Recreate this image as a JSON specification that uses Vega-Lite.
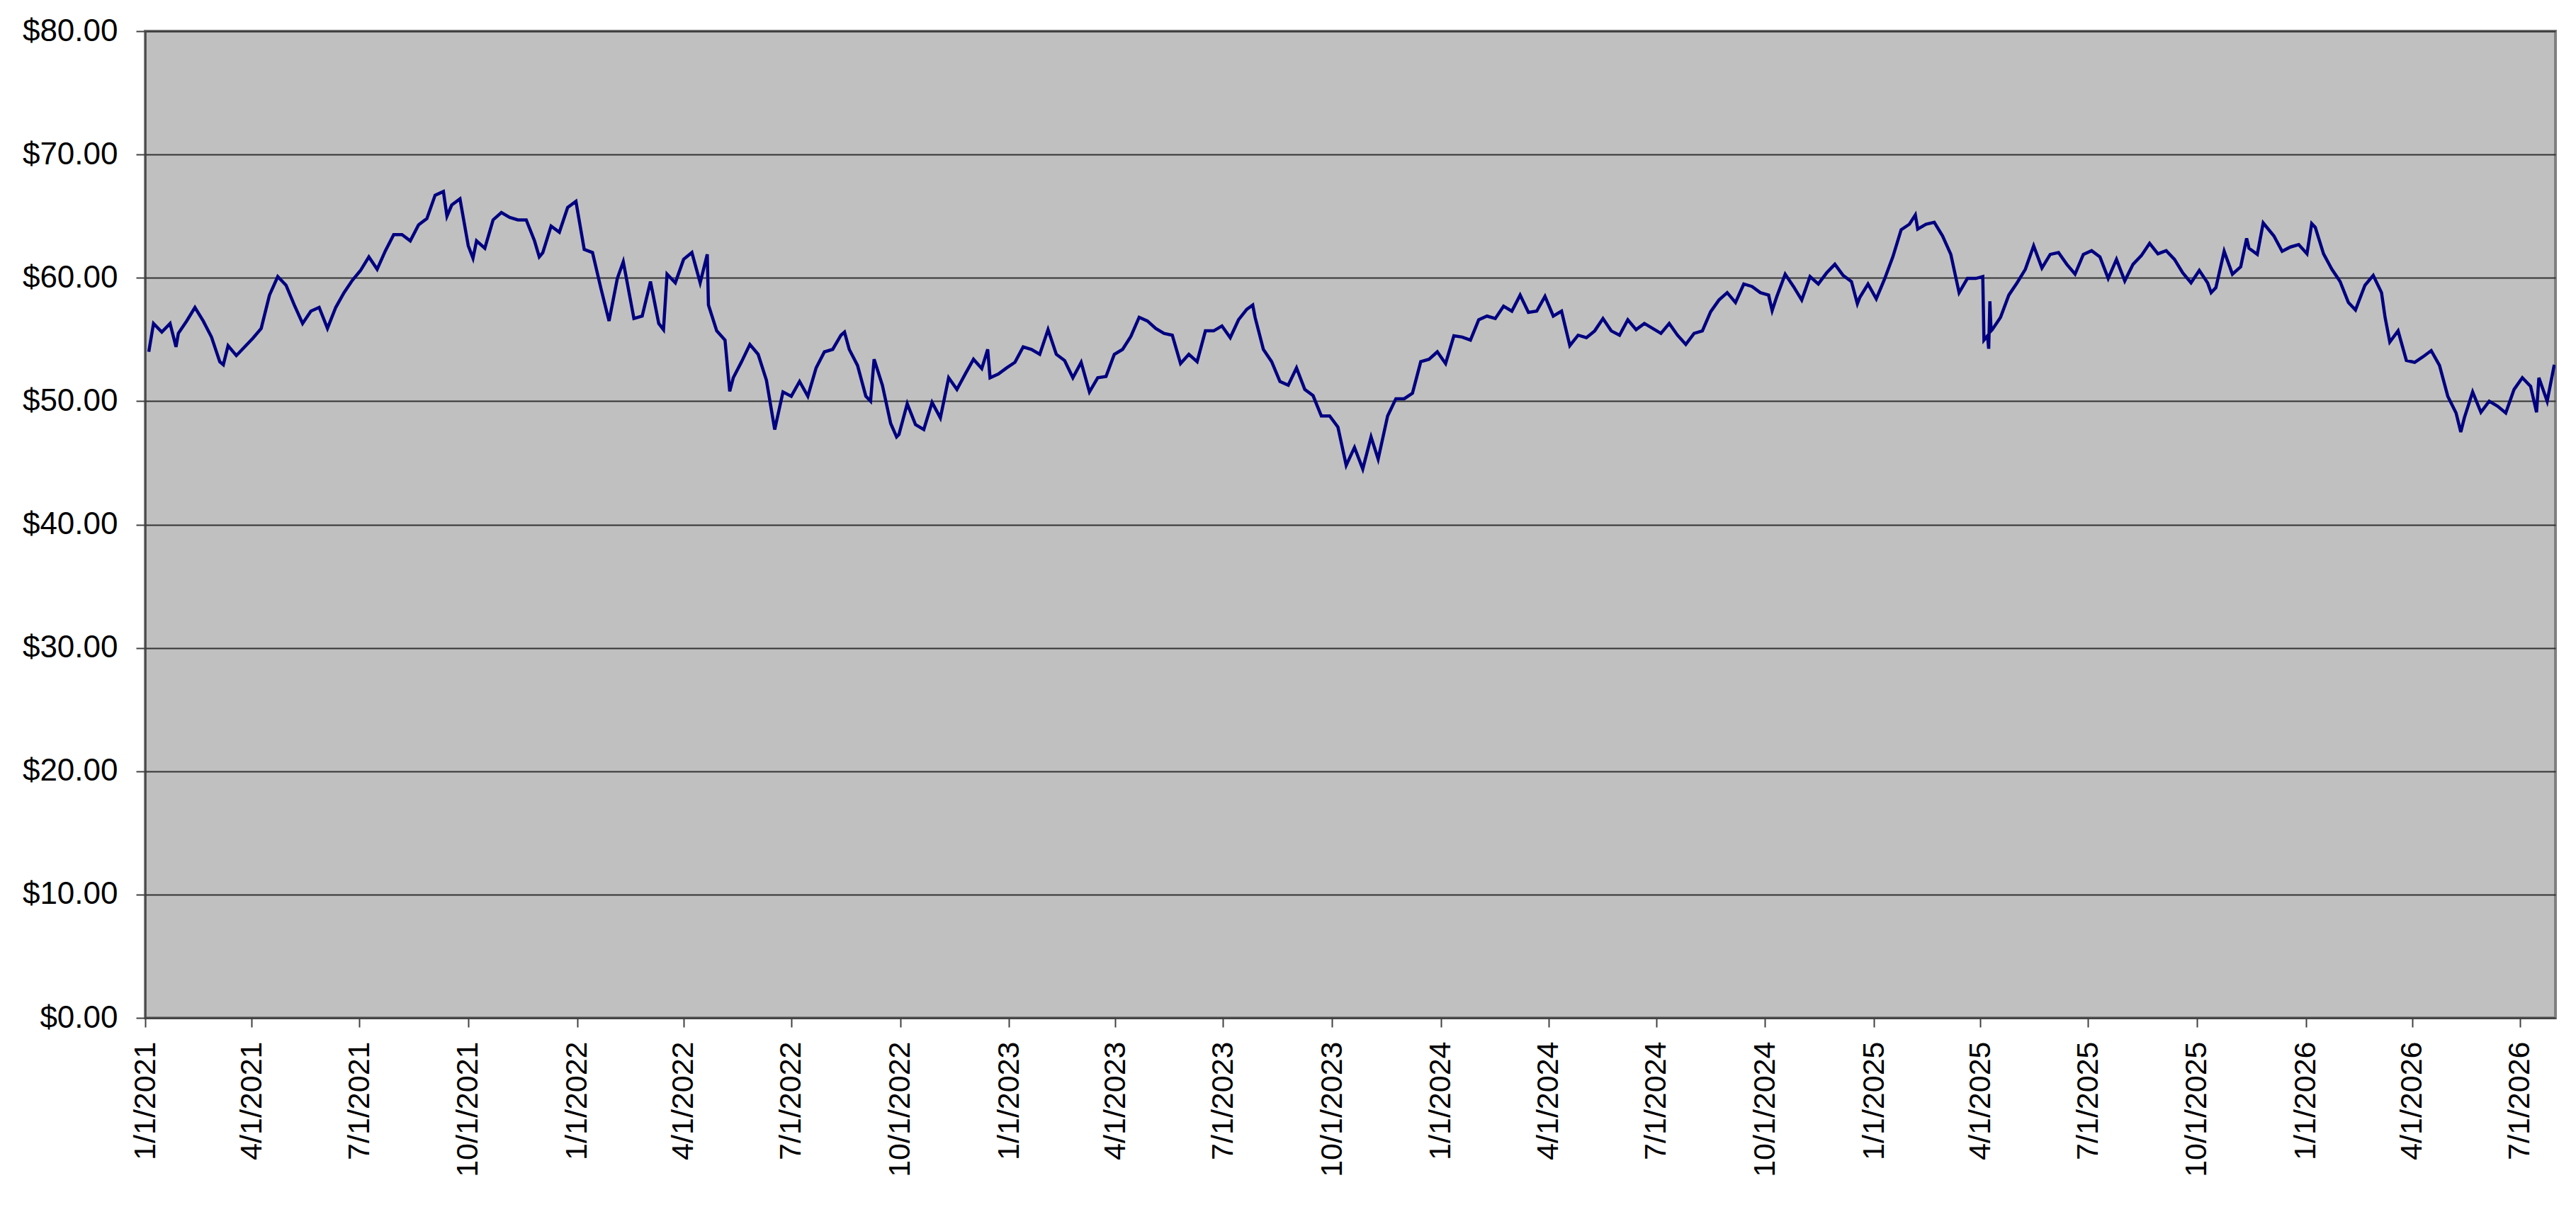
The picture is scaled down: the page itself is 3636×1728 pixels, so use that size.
{
  "$schema": "https://vega.github.io/schema/vega-lite/v6.json",
  "width": 3402,
  "height": 1393,
  "autosize": {"type": "none"},
  "padding": {"left": 205, "top": 44, "right": 29, "bottom": 291},
  "background": "white",
  "config": {
    "view": {"fill": "#C0C0C0", "stroke": "#808080", "strokeWidth": 4},
    "axis": {
      "labelFont": "Liberation Sans",
      "labelColor": "#000000",
      "domainColor": "#404040",
      "domainWidth": 2,
      "tickColor": "#404040",
      "tickWidth": 2,
      "tickSize": 13,
      "title": null
    }
  },
  "data": {
    "values": [
      {"date": "2021-01-04", "price": 54.0},
      {"date": "2021-01-08", "price": 56.3},
      {"date": "2021-01-15", "price": 55.6},
      {"date": "2021-01-22", "price": 56.3},
      {"date": "2021-01-27", "price": 54.4},
      {"date": "2021-01-29", "price": 55.5},
      {"date": "2021-02-05", "price": 56.5},
      {"date": "2021-02-12", "price": 57.6},
      {"date": "2021-02-19", "price": 56.5},
      {"date": "2021-02-26", "price": 55.2},
      {"date": "2021-03-05", "price": 53.2},
      {"date": "2021-03-08", "price": 52.95},
      {"date": "2021-03-12", "price": 54.5},
      {"date": "2021-03-19", "price": 53.7},
      {"date": "2021-03-26", "price": 54.4},
      {"date": "2021-04-02", "price": 55.1},
      {"date": "2021-04-09", "price": 55.9},
      {"date": "2021-04-16", "price": 58.6},
      {"date": "2021-04-23", "price": 60.1},
      {"date": "2021-04-30", "price": 59.4},
      {"date": "2021-05-07", "price": 57.8},
      {"date": "2021-05-14", "price": 56.3},
      {"date": "2021-05-21", "price": 57.3},
      {"date": "2021-05-28", "price": 57.6},
      {"date": "2021-06-04", "price": 55.9},
      {"date": "2021-06-11", "price": 57.6},
      {"date": "2021-06-18", "price": 58.8},
      {"date": "2021-06-25", "price": 59.8},
      {"date": "2021-07-02", "price": 60.6},
      {"date": "2021-07-09", "price": 61.7},
      {"date": "2021-07-16", "price": 60.7},
      {"date": "2021-07-23", "price": 62.2},
      {"date": "2021-07-30", "price": 63.5},
      {"date": "2021-08-06", "price": 63.5},
      {"date": "2021-08-13", "price": 63.0},
      {"date": "2021-08-20", "price": 64.3},
      {"date": "2021-08-27", "price": 64.8},
      {"date": "2021-09-03", "price": 66.7},
      {"date": "2021-09-10", "price": 67.0},
      {"date": "2021-09-13", "price": 65.0},
      {"date": "2021-09-17", "price": 65.9},
      {"date": "2021-09-24", "price": 66.4},
      {"date": "2021-10-01", "price": 62.6},
      {"date": "2021-10-05", "price": 61.6},
      {"date": "2021-10-08", "price": 63.0},
      {"date": "2021-10-15", "price": 62.4},
      {"date": "2021-10-22", "price": 64.7},
      {"date": "2021-10-29", "price": 65.3},
      {"date": "2021-11-05", "price": 64.9},
      {"date": "2021-11-12", "price": 64.7},
      {"date": "2021-11-19", "price": 64.7},
      {"date": "2021-11-26", "price": 63.0},
      {"date": "2021-11-30", "price": 61.7},
      {"date": "2021-12-03", "price": 62.05},
      {"date": "2021-12-10", "price": 64.2},
      {"date": "2021-12-17", "price": 63.7},
      {"date": "2021-12-24", "price": 65.7},
      {"date": "2021-12-31", "price": 66.2},
      {"date": "2022-01-07", "price": 62.3},
      {"date": "2022-01-14", "price": 62.05},
      {"date": "2022-01-21", "price": 59.2},
      {"date": "2022-01-28", "price": 56.5},
      {"date": "2022-02-04", "price": 59.95},
      {"date": "2022-02-09", "price": 61.3},
      {"date": "2022-02-11", "price": 60.3},
      {"date": "2022-02-18", "price": 56.7},
      {"date": "2022-02-25", "price": 56.9},
      {"date": "2022-03-04", "price": 59.7},
      {"date": "2022-03-11", "price": 56.3},
      {"date": "2022-03-15", "price": 55.8},
      {"date": "2022-03-18", "price": 60.3},
      {"date": "2022-03-25", "price": 59.6},
      {"date": "2022-04-01", "price": 61.5},
      {"date": "2022-04-08", "price": 62.05},
      {"date": "2022-04-15", "price": 59.6},
      {"date": "2022-04-21", "price": 61.9},
      {"date": "2022-04-22", "price": 57.8},
      {"date": "2022-04-29", "price": 55.7},
      {"date": "2022-05-06", "price": 54.95},
      {"date": "2022-05-10", "price": 50.8},
      {"date": "2022-05-13", "price": 51.9},
      {"date": "2022-05-20", "price": 53.2},
      {"date": "2022-05-27", "price": 54.6},
      {"date": "2022-06-03", "price": 53.8},
      {"date": "2022-06-10", "price": 51.7},
      {"date": "2022-06-17", "price": 47.7},
      {"date": "2022-06-24", "price": 50.75},
      {"date": "2022-07-01", "price": 50.4},
      {"date": "2022-07-08", "price": 51.6},
      {"date": "2022-07-15", "price": 50.4},
      {"date": "2022-07-22", "price": 52.7},
      {"date": "2022-07-29", "price": 54.0},
      {"date": "2022-08-05", "price": 54.2},
      {"date": "2022-08-12", "price": 55.35},
      {"date": "2022-08-15", "price": 55.6},
      {"date": "2022-08-19", "price": 54.2},
      {"date": "2022-08-26", "price": 52.9},
      {"date": "2022-09-02", "price": 50.4},
      {"date": "2022-09-06", "price": 50.0},
      {"date": "2022-09-09", "price": 53.4},
      {"date": "2022-09-16", "price": 51.3},
      {"date": "2022-09-23", "price": 48.2},
      {"date": "2022-09-28", "price": 47.1},
      {"date": "2022-09-30", "price": 47.3},
      {"date": "2022-10-07", "price": 49.8},
      {"date": "2022-10-14", "price": 48.1},
      {"date": "2022-10-21", "price": 47.7},
      {"date": "2022-10-28", "price": 49.9},
      {"date": "2022-11-04", "price": 48.65},
      {"date": "2022-11-11", "price": 51.9},
      {"date": "2022-11-18", "price": 50.95},
      {"date": "2022-11-25", "price": 52.2},
      {"date": "2022-12-02", "price": 53.4},
      {"date": "2022-12-09", "price": 52.65},
      {"date": "2022-12-14", "price": 54.2},
      {"date": "2022-12-16", "price": 51.9},
      {"date": "2022-12-23", "price": 52.2},
      {"date": "2022-12-30", "price": 52.7},
      {"date": "2023-01-06", "price": 53.15},
      {"date": "2023-01-13", "price": 54.4},
      {"date": "2023-01-20", "price": 54.2},
      {"date": "2023-01-27", "price": 53.8},
      {"date": "2023-02-03", "price": 55.8},
      {"date": "2023-02-10", "price": 53.8},
      {"date": "2023-02-17", "price": 53.3},
      {"date": "2023-02-24", "price": 51.9},
      {"date": "2023-03-03", "price": 53.15},
      {"date": "2023-03-10", "price": 50.75},
      {"date": "2023-03-17", "price": 51.9},
      {"date": "2023-03-24", "price": 52.0},
      {"date": "2023-03-31", "price": 53.8},
      {"date": "2023-04-07", "price": 54.2},
      {"date": "2023-04-14", "price": 55.25},
      {"date": "2023-04-21", "price": 56.8},
      {"date": "2023-04-28", "price": 56.5},
      {"date": "2023-05-05", "price": 55.9},
      {"date": "2023-05-12", "price": 55.5},
      {"date": "2023-05-19", "price": 55.35},
      {"date": "2023-05-26", "price": 53.05},
      {"date": "2023-06-02", "price": 53.8},
      {"date": "2023-06-09", "price": 53.2},
      {"date": "2023-06-16", "price": 55.7},
      {"date": "2023-06-23", "price": 55.7},
      {"date": "2023-06-30", "price": 56.1},
      {"date": "2023-07-07", "price": 55.15},
      {"date": "2023-07-14", "price": 56.6},
      {"date": "2023-07-21", "price": 57.45},
      {"date": "2023-07-26", "price": 57.8},
      {"date": "2023-07-28", "price": 56.8},
      {"date": "2023-08-04", "price": 54.2},
      {"date": "2023-08-11", "price": 53.2},
      {"date": "2023-08-18", "price": 51.6},
      {"date": "2023-08-25", "price": 51.3},
      {"date": "2023-09-01", "price": 52.7},
      {"date": "2023-09-08", "price": 50.95},
      {"date": "2023-09-15", "price": 50.45},
      {"date": "2023-09-22", "price": 48.8},
      {"date": "2023-09-29", "price": 48.8},
      {"date": "2023-10-06", "price": 47.9},
      {"date": "2023-10-13", "price": 44.8},
      {"date": "2023-10-20", "price": 46.25},
      {"date": "2023-10-27", "price": 44.5},
      {"date": "2023-11-03", "price": 47.1},
      {"date": "2023-11-09", "price": 45.3},
      {"date": "2023-11-17", "price": 48.8},
      {"date": "2023-11-24", "price": 50.2},
      {"date": "2023-12-01", "price": 50.2},
      {"date": "2023-12-08", "price": 50.65},
      {"date": "2023-12-15", "price": 53.2},
      {"date": "2023-12-22", "price": 53.4},
      {"date": "2023-12-29", "price": 54.0},
      {"date": "2024-01-05", "price": 53.05},
      {"date": "2024-01-12", "price": 55.3},
      {"date": "2024-01-19", "price": 55.2},
      {"date": "2024-01-26", "price": 54.95},
      {"date": "2024-02-02", "price": 56.6},
      {"date": "2024-02-09", "price": 56.9},
      {"date": "2024-02-16", "price": 56.7},
      {"date": "2024-02-23", "price": 57.7},
      {"date": "2024-03-01", "price": 57.3},
      {"date": "2024-03-08", "price": 58.6},
      {"date": "2024-03-15", "price": 57.2},
      {"date": "2024-03-22", "price": 57.3},
      {"date": "2024-03-29", "price": 58.5},
      {"date": "2024-04-05", "price": 56.9},
      {"date": "2024-04-12", "price": 57.3},
      {"date": "2024-04-19", "price": 54.5},
      {"date": "2024-04-26", "price": 55.35},
      {"date": "2024-05-03", "price": 55.15},
      {"date": "2024-05-10", "price": 55.7},
      {"date": "2024-05-17", "price": 56.7},
      {"date": "2024-05-24", "price": 55.7},
      {"date": "2024-05-31", "price": 55.35},
      {"date": "2024-06-07", "price": 56.6},
      {"date": "2024-06-14", "price": 55.8},
      {"date": "2024-06-21", "price": 56.3},
      {"date": "2024-06-28", "price": 55.9},
      {"date": "2024-07-05", "price": 55.5},
      {"date": "2024-07-12", "price": 56.3},
      {"date": "2024-07-19", "price": 55.35},
      {"date": "2024-07-26", "price": 54.6},
      {"date": "2024-08-02", "price": 55.5},
      {"date": "2024-08-09", "price": 55.7},
      {"date": "2024-08-16", "price": 57.25},
      {"date": "2024-08-23", "price": 58.2},
      {"date": "2024-08-30", "price": 58.8},
      {"date": "2024-09-06", "price": 58.0},
      {"date": "2024-09-13", "price": 59.5},
      {"date": "2024-09-20", "price": 59.3},
      {"date": "2024-09-27", "price": 58.8},
      {"date": "2024-10-04", "price": 58.6},
      {"date": "2024-10-07", "price": 57.35},
      {"date": "2024-10-11", "price": 58.5},
      {"date": "2024-10-18", "price": 60.3},
      {"date": "2024-10-25", "price": 59.3},
      {"date": "2024-11-01", "price": 58.2},
      {"date": "2024-11-08", "price": 60.1},
      {"date": "2024-11-15", "price": 59.5},
      {"date": "2024-11-22", "price": 60.4},
      {"date": "2024-11-29", "price": 61.1},
      {"date": "2024-12-06", "price": 60.2},
      {"date": "2024-12-13", "price": 59.7},
      {"date": "2024-12-18", "price": 57.9},
      {"date": "2024-12-20", "price": 58.4},
      {"date": "2024-12-27", "price": 59.5},
      {"date": "2025-01-03", "price": 58.3},
      {"date": "2025-01-10", "price": 59.9},
      {"date": "2025-01-17", "price": 61.7},
      {"date": "2025-01-24", "price": 63.9},
      {"date": "2025-01-31", "price": 64.35},
      {"date": "2025-02-05", "price": 65.1},
      {"date": "2025-02-07", "price": 63.95},
      {"date": "2025-02-14", "price": 64.35},
      {"date": "2025-02-21", "price": 64.5},
      {"date": "2025-02-28", "price": 63.4},
      {"date": "2025-03-07", "price": 61.9},
      {"date": "2025-03-14", "price": 58.8},
      {"date": "2025-03-21", "price": 59.95},
      {"date": "2025-03-28", "price": 59.95},
      {"date": "2025-04-03", "price": 60.1},
      {"date": "2025-04-04", "price": 54.95},
      {"date": "2025-04-07", "price": 55.3},
      {"date": "2025-04-08", "price": 54.25},
      {"date": "2025-04-09", "price": 58.1},
      {"date": "2025-04-10", "price": 55.7},
      {"date": "2025-04-11", "price": 55.8},
      {"date": "2025-04-18", "price": 56.8},
      {"date": "2025-04-25", "price": 58.6},
      {"date": "2025-05-02", "price": 59.6},
      {"date": "2025-05-09", "price": 60.7},
      {"date": "2025-05-16", "price": 62.6},
      {"date": "2025-05-23", "price": 60.8},
      {"date": "2025-05-30", "price": 61.9},
      {"date": "2025-06-06", "price": 62.05},
      {"date": "2025-06-13", "price": 61.1},
      {"date": "2025-06-20", "price": 60.3},
      {"date": "2025-06-27", "price": 61.9},
      {"date": "2025-07-04", "price": 62.2},
      {"date": "2025-07-11", "price": 61.7},
      {"date": "2025-07-18", "price": 59.95},
      {"date": "2025-07-25", "price": 61.5},
      {"date": "2025-08-01", "price": 59.75},
      {"date": "2025-08-08", "price": 61.1},
      {"date": "2025-08-15", "price": 61.8},
      {"date": "2025-08-22", "price": 62.8},
      {"date": "2025-08-29", "price": 61.95},
      {"date": "2025-09-05", "price": 62.2},
      {"date": "2025-09-12", "price": 61.5},
      {"date": "2025-09-19", "price": 60.4},
      {"date": "2025-09-26", "price": 59.6},
      {"date": "2025-10-03", "price": 60.6},
      {"date": "2025-10-10", "price": 59.6},
      {"date": "2025-10-13", "price": 58.8},
      {"date": "2025-10-17", "price": 59.2},
      {"date": "2025-10-24", "price": 62.15},
      {"date": "2025-10-31", "price": 60.3},
      {"date": "2025-11-07", "price": 60.9},
      {"date": "2025-11-12", "price": 63.2},
      {"date": "2025-11-14", "price": 62.4},
      {"date": "2025-11-21", "price": 61.9},
      {"date": "2025-11-26", "price": 64.45},
      {"date": "2025-12-05", "price": 63.4},
      {"date": "2025-12-12", "price": 62.15},
      {"date": "2025-12-19", "price": 62.5},
      {"date": "2025-12-26", "price": 62.7},
      {"date": "2026-01-02", "price": 61.95},
      {"date": "2026-01-06", "price": 64.4},
      {"date": "2026-01-09", "price": 64.1},
      {"date": "2026-01-16", "price": 61.95},
      {"date": "2026-01-23", "price": 60.7},
      {"date": "2026-01-30", "price": 59.7},
      {"date": "2026-02-06", "price": 58.0},
      {"date": "2026-02-12", "price": 57.4},
      {"date": "2026-02-20", "price": 59.4},
      {"date": "2026-02-27", "price": 60.2},
      {"date": "2026-03-06", "price": 58.8},
      {"date": "2026-03-09", "price": 56.8},
      {"date": "2026-03-13", "price": 54.8},
      {"date": "2026-03-20", "price": 55.7},
      {"date": "2026-03-27", "price": 53.3},
      {"date": "2026-04-03", "price": 53.15},
      {"date": "2026-04-10", "price": 53.6},
      {"date": "2026-04-17", "price": 54.1},
      {"date": "2026-04-24", "price": 52.9},
      {"date": "2026-05-01", "price": 50.4},
      {"date": "2026-05-08", "price": 49.05},
      {"date": "2026-05-12", "price": 47.5},
      {"date": "2026-05-15", "price": 48.65},
      {"date": "2026-05-22", "price": 50.75},
      {"date": "2026-05-29", "price": 49.1},
      {"date": "2026-06-05", "price": 50.0},
      {"date": "2026-06-12", "price": 49.6},
      {"date": "2026-06-19", "price": 49.05},
      {"date": "2026-06-26", "price": 50.95},
      {"date": "2026-07-03", "price": 51.9},
      {"date": "2026-07-10", "price": 51.2},
      {"date": "2026-07-15", "price": 49.1},
      {"date": "2026-07-17", "price": 51.9},
      {"date": "2026-07-24", "price": 50.0},
      {"date": "2026-07-30", "price": 52.95}
    ]
  },
  "mark": {"type": "line", "color": "#000080", "strokeWidth": 4.5, "clip": true},
  "encoding": {
    "x": {
      "field": "date",
      "type": "temporal",
      "scale": {
        "type": "utc",
        "nice": false,
        "domain": [
          {"year": 2021, "month": 1, "date": 1, "utc": true},
          {"year": 2026, "month": 7, "date": 31, "utc": true}
        ]
      },
      "axis": {
        "values": [
          {"year": 2021, "month": 1, "date": 1, "utc": true},
          {"year": 2021, "month": 4, "date": 1, "utc": true},
          {"year": 2021, "month": 7, "date": 1, "utc": true},
          {"year": 2021, "month": 10, "date": 1, "utc": true},
          {"year": 2022, "month": 1, "date": 1, "utc": true},
          {"year": 2022, "month": 4, "date": 1, "utc": true},
          {"year": 2022, "month": 7, "date": 1, "utc": true},
          {"year": 2022, "month": 10, "date": 1, "utc": true},
          {"year": 2023, "month": 1, "date": 1, "utc": true},
          {"year": 2023, "month": 4, "date": 1, "utc": true},
          {"year": 2023, "month": 7, "date": 1, "utc": true},
          {"year": 2023, "month": 10, "date": 1, "utc": true},
          {"year": 2024, "month": 1, "date": 1, "utc": true},
          {"year": 2024, "month": 4, "date": 1, "utc": true},
          {"year": 2024, "month": 7, "date": 1, "utc": true},
          {"year": 2024, "month": 10, "date": 1, "utc": true},
          {"year": 2025, "month": 1, "date": 1, "utc": true},
          {"year": 2025, "month": 4, "date": 1, "utc": true},
          {"year": 2025, "month": 7, "date": 1, "utc": true},
          {"year": 2025, "month": 10, "date": 1, "utc": true},
          {"year": 2026, "month": 1, "date": 1, "utc": true},
          {"year": 2026, "month": 4, "date": 1, "utc": true},
          {"year": 2026, "month": 7, "date": 1, "utc": true}
        ],
        "labelExpr": "utcFormat(datum.value, '%-m/%-d/%Y')",
        "labelAngle": -90,
        "labelAlign": "right",
        "labelBaseline": "middle",
        "labelFontSize": 43,
        "labelPadding": 20,
        "labelLimit": 0,
        "labelOverlap": false,
        "labelFlush": false,
        "grid": false
      }
    },
    "y": {
      "field": "price",
      "type": "quantitative",
      "scale": {"domain": [0, 80], "nice": false, "zero": true},
      "axis": {
        "values": [0, 10, 20, 30, 40, 50, 60, 70, 80],
        "format": "$.2f",
        "labelFontSize": 44,
        "labelPadding": 26,
        "labelLimit": 0,
        "grid": true,
        "gridColor": "#333333",
        "gridWidth": 2,
        "gridOpacity": 1
      }
    }
  }
}
